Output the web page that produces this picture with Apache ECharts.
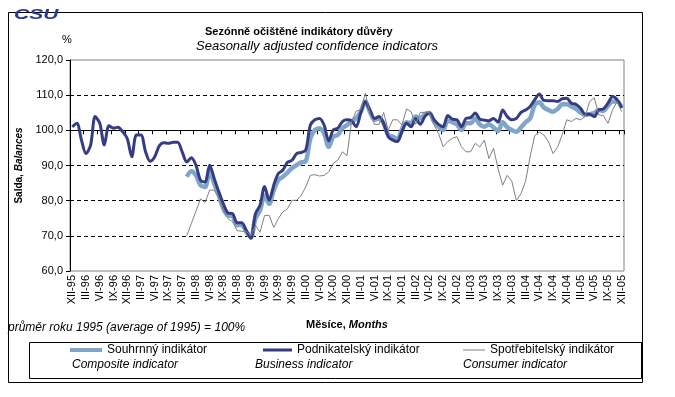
<!DOCTYPE html>
<html>
<head>
<meta charset="utf-8">
<script src="https://cdn.jsdelivr.net/npm/echarts@6/dist/echarts.min.js"></script>
<style>
html, body { margin: 0; padding: 0; background: #fff; }
#chart { width: 675px; height: 397px; }
</style>
</head>
<body>
<div id="chart"></div>
<script>
// months XII-95 .. XII-05
var romans = ['I','II','III','IV','V','VI','VII','VIII','IX','X','XI','XII'];
var years = ['96','97','98','99','00','01','02','03','04','05'];

var categories = ['XII-95'];
years.forEach(function(y){
    romans.forEach(function(m){ categories.push(m + '-' + y); });
});

var yTicks = [60, 70, 80, 90, 100, 110, 120];

var business = [
    101.0,102.0,97.2,93.4,95.8,103.9,102.0,95.8,101.3,100.6,100.9,99.6,
    97.7,92.5,98.7,98.7,93.9,91.2,92.5,95.6,96.5,96.3,96.6,96.6,
    93.9,91.0,92.2,90.1,85.8,85.3,90.1,86.3,82.5,79.1,76.5,76.3,
    73.7,73.7,71.5,69.3,76.3,78.7,84.0,80.1,84.4,87.7,88.7,90.9,
    91.5,93.4,93.7,94.4,101.5,103.0,103.4,101.5,97.0,100.1,100.6,102.5,
    103.0,102.7,101.0,104.9,108.2,105.8,103.4,103.9,102.0,98.2,97.2,96.8,
    99.6,102.0,101.0,103.4,101.7,103.9,104.9,103.0,101.7,101.0,104.2,103.2,
    103.0,101.0,103.4,103.6,104.9,103.2,102.9,102.7,103.4,102.3,105.8,103.9,
    103.0,103.4,105.1,105.8,106.8,108.7,110.3,108.5,108.4,108.4,108.2,109.0,
    109.1,107.7,107.4,106.3,104.6,104.6,103.9,105.8,106.1,107.7,109.6,108.7,
    106.3
];

var composite = [
    null,null,null,null,null,null,null,null,null,null,null,null,
    null,null,null,null,null,null,null,null,null,null,null,null,
    null,86.8,88.4,87.2,84.4,83.9,88.4,84.8,81.5,77.7,75.8,75.6,
    73.0,73.1,71.2,69.6,74.9,77.2,81.5,79.1,83.0,85.8,86.8,88.0,
    89.3,90.1,90.9,91.2,97.7,100.1,100.6,99.1,95.3,98.2,98.7,100.6,
    101.5,102.5,103.4,105.3,108.2,105.3,103.0,103.4,102.0,98.7,98.2,97.5,
    100.3,102.3,102.0,103.9,103.4,104.6,104.9,102.5,101.0,100.1,102.7,102.3,
    101.7,100.1,102.0,102.0,103.4,101.7,101.0,101.7,100.8,99.8,102.3,100.9,
    100.1,99.6,100.8,102.3,103.4,107.2,108.0,106.5,105.8,105.3,106.1,107.4,
    107.4,106.8,106.1,105.1,104.4,104.6,104.9,105.8,105.5,107.0,108.2,108.2,
    106.5
];

var consumer = [
    null,null,null,null,null,null,null,null,null,null,null,null,
    null,null,null,null,null,null,null,null,null,null,null,null,
    null,70.0,73.5,77.0,80.5,79.5,83.0,83.0,80.8,77.2,74.9,74.0,
    71.5,71.3,71.3,70.0,73.0,71.0,75.8,75.8,72.4,74.9,76.8,77.7,
    80.1,80.1,81.5,83.9,87.2,87.4,87.0,87.2,88.2,90.6,91.5,93.9,
    92.8,102.5,105.5,105.8,110.6,104.9,101.7,101.7,105.1,100.1,103.0,103.0,
    101.5,106.1,105.3,101.7,105.1,105.1,105.1,101.5,99.1,95.3,96.8,97.7,
    98.2,95.3,93.9,93.9,96.3,95.3,97.2,92.0,94.9,89.1,84.4,87.2,
    85.5,80.0,82.0,85.5,92.5,98.5,99.5,98.7,96.8,93.4,95.3,98.7,
    103.0,102.5,103.4,103.0,103.9,108.2,109.3,104.4,104.2,102.0,105.8,108.2,
    105.3
];

var font = "'Liberation Sans', Arial, sans-serif";
var gridTop = 60, gridBottom = 126;
var gridHeight = 397 - gridTop - gridBottom;
var yMin = 60, yMax = 120, yBase = 100;

var chart = echarts.init(document.getElementById('chart'));

chart.setOption({
    backgroundColor: '#fff',
    animation: false,
    textStyle: { fontFamily: font, color: '#000' },
    title: [
        {
            text: 'Sezónně očištěné indikátory důvěry',
            left: 205, top: 26, padding: 0,
            textStyle: { fontSize: 11, fontWeight: 'bold', color: '#000', fontFamily: font }
        },
        {
            text: 'Seasonally adjusted confidence indicators',
            left: 196, top: 40, padding: 0,
            textStyle: { fontSize: 13, fontWeight: 'normal', fontStyle: 'italic', color: '#000', fontFamily: font }
        }
    ],
    legend: [
        {
            data: ['Souhrnný indikátor'], left: 70, top: 344, padding: 0,
            icon: 'rect', itemWidth: 32, itemHeight: 4,
            textStyle: { fontSize: 12, color: '#000', fontFamily: font }
        },
        {
            data: ['Podnikatelský indikátor'], left: 263, top: 344, padding: 0,
            icon: 'rect', itemWidth: 29, itemHeight: 3,
            textStyle: { fontSize: 12, color: '#000', fontFamily: font }
        },
        {
            data: ['Spotřebitelský indikátor'], left: 463, top: 344, padding: 0,
            icon: 'rect', itemWidth: 22, itemHeight: 1,
            textStyle: { fontSize: 12, color: '#000', fontFamily: font }
        }
    ],
    grid: {
        left: 70, right: 51, top: gridTop, bottom: gridBottom,
        show: true, borderColor: '#808080', borderWidth: 1, backgroundColor: '#fff'
    },
    xAxis: [
        {
            type: 'category',
            data: categories,
            boundaryGap: true,
            axisLine: { show: false },
            axisTick: { show: false },
            axisLabel: {
                interval: 2, rotate: 90, fontSize: 11, margin: 4,
                color: '#000', fontFamily: font
            },
            name: '{b|Měsíce, }{bi|Months}',
            nameLocation: 'middle',
            nameGap: 48,
            nameTextStyle: {
                rich: {
                    b: { fontSize: 11, fontWeight: 'bold', fontFamily: font, color: '#000' },
                    bi: { fontSize: 11, fontWeight: 'bold', fontStyle: 'italic', fontFamily: font, color: '#000' }
                }
            }
        },
        {
            // axis line at 100 with ticks every 3 months
            type: 'category',
            data: categories,
            boundaryGap: true,
            position: 'bottom',
            offset: -gridHeight * (yBase - yMin) / (yMax - yMin),
            axisLine: { show: true, lineStyle: { color: '#000', width: 1 } },
            axisTick: { show: true, interval: 2, length: 4, lineStyle: { color: '#000' } },
            axisLabel: { show: false },
            splitLine: { show: false }
        }
    ],
    yAxis: {
        type: 'value',
        min: yMin, max: yMax, interval: 10,
        axisLine: { show: true, lineStyle: { color: '#000', width: 1 } },
        axisTick: { show: true, length: 4, lineStyle: { color: '#000' } },
        axisLabel: {
            fontSize: 11, margin: 7, color: '#000', fontFamily: font,
            formatter: function(v){ return yTicks.indexOf(v) > -1 ? v.toFixed(1).replace('.', ',') : ''; }
        },
        splitLine: {
            show: true, showMinLine: false, showMaxLine: false,
            lineStyle: { color: '#000', width: 1, type: [4, 3] }
        },
        name: '{b|Salda, }{bi|Balances}',
        nameLocation: 'middle',
        nameRotate: 90,
        nameGap: 37,
        nameTextStyle: {
            rich: {
                b: { fontSize: 10, fontWeight: 'bold', fontFamily: font, color: '#000' },
                bi: { fontSize: 10, fontWeight: 'bold', fontStyle: 'italic', fontFamily: font, color: '#000' }
            }
        }
    },
    series: [
        {
            name: 'Souhrnný indikátor',
            type: 'line',
            data: composite,
            symbol: 'none',
            smooth: 0.3,
            lineStyle: { color: '#7fa5c8', width: 4.5 },
            itemStyle: { color: '#7fa5c8' }
        },
        {
            name: 'Podnikatelský indikátor',
            type: 'line',
            data: business,
            symbol: 'none',
            smooth: 0.3,
            lineStyle: { color: '#363c84', width: 3 },
            itemStyle: { color: '#363c84' }
        },
        {
            name: 'Spotřebitelský indikátor',
            type: 'line',
            data: consumer,
            symbol: 'none',
            lineStyle: { color: '#808080', width: 1 },
            itemStyle: { color: '#808080' }
        }
    ],
    graphic: [
        {
            type: 'rect', left: 6, top: 10, silent: true,
            shape: { width: 634, height: 370 },
            style: { fill: 'none', stroke: '#000', lineWidth: 1 }
        },
        {
            type: 'rect', left: 27, top: 340, silent: true,
            shape: { width: 612, height: 36 },
            style: { fill: 'none', stroke: '#000', lineWidth: 1 }
        },
        {
            type: 'text', left: 14, top: 7, scaleX: 1.4,
            style: { text: 'CSU', font: 'italic bold 15px ' + font, fill: '#2b3a8e' }
        },
        {
            type: 'text', left: 62, top: 34,
            style: { text: '%', font: '11px ' + font, fill: '#000' }
        },
        {
            type: 'text', left: 8, top: 322,
            style: { text: 'průměr roku 1995 (average of 1995) = 100%', font: 'italic 12px ' + font, fill: '#000' }
        },
        {
            type: 'text', left: 72, top: 359,
            style: { text: 'Composite indicator', font: 'italic 12px ' + font, fill: '#000' }
        },
        {
            type: 'text', left: 255, top: 359,
            style: { text: 'Business indicator', font: 'italic 12px ' + font, fill: '#000' }
        },
        {
            type: 'text', left: 463, top: 359,
            style: { text: 'Consumer indicator', font: 'italic 12px ' + font, fill: '#000' }
        }
    ]
});
</script>
</body>
</html>
